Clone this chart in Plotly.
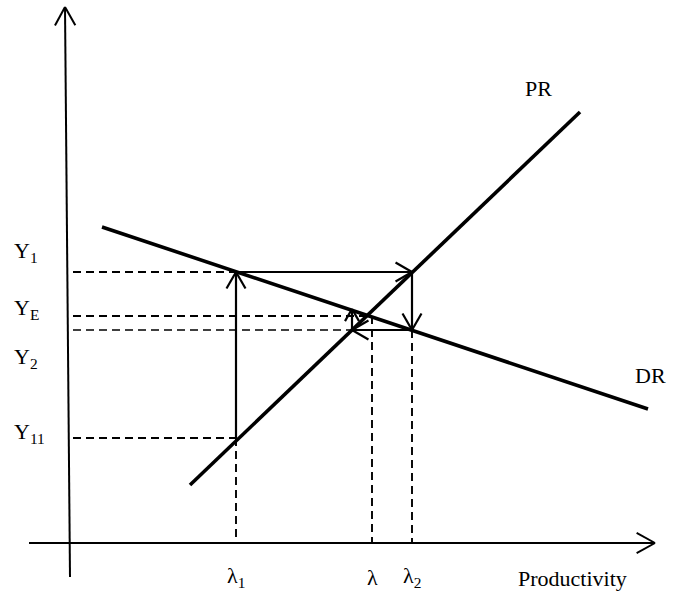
import math
import plotly.graph_objects as go

# ---- data (units: diagram units, origin at axes intersection) ----
dr_x = [32, 578]
dr_y = [316, 134]
pr_x = [120, 510]
pr_y = [58, 431]

lam_names = ["λ<sub>1</sub>", "λ", "λ<sub>2</sub>"]
lam_vals = [166, 302, 342]
y_names = ["Y<sub>1</sub>", "Y<sub>E</sub>", "Y<sub>2</sub>", "Y<sub>11</sub>"]
y_vals = [271, 227, 213, 105]

# cobweb path (adjustment arrows)
cob_x = [166, 166, 342, 342, 282, 282]
cob_y = [105, 271, 271, 213, 213, 234]

# axes extents
yaxis_x = [-5, 0]
yaxis_y = [536, -34]
xaxis_x = [-41, 585]
xaxis_y = [0, 0]

fig = go.Figure()

def line(xs, ys, width, dash=None):
    fig.add_trace(go.Scatter(x=xs, y=ys, mode="lines",
                             line=dict(color="black", width=width, dash=dash),
                             hoverinfo="skip", showlegend=False))

def head(x0, y0, x1, y1, L=19, ang=30, width=2.2):
    a = math.atan2(y1 - y0, x1 - x0)
    pts_x, pts_y = [], []
    for s in (1, -1):
        b = a + math.pi - s * math.radians(ang)
        pts_x += [x1 + L * math.cos(b), x1, None]
        pts_y += [y1 + L * math.sin(b), y1, None]
    line(pts_x, pts_y, width)

# axes
line(yaxis_x, yaxis_y, 2)
head(yaxis_x[1], yaxis_y[1], yaxis_x[0], yaxis_y[0], L=21, ang=29, width=2)
line(xaxis_x, xaxis_y, 2)
head(xaxis_x[0], 0, xaxis_x[1], 0, L=21, ang=29, width=2)

# dashed guides
x_start = 3
dash = "8px,5px"
dw = 1.9
# Y1 -> lambda1
line([x_start, lam_vals[0]], [y_vals[0], y_vals[0]], dw, dash)
# Y11 -> lambda1, and lambda1 down
line([x_start, lam_vals[0]], [y_vals[3], y_vals[3]], dw, dash)
line([lam_vals[0], lam_vals[0]], [y_vals[3], 0], dw, dash)
# YE -> lambda, lambda down
line([x_start, lam_vals[1]], [y_vals[1], y_vals[1]], dw, dash)
line([lam_vals[1], lam_vals[1]], [y_vals[1], 0], dw, dash)
# Y2 -> cobweb, lambda2 down
line([x_start, cob_x[4]], [y_vals[2], y_vals[2]], 1.5, dash)
line([lam_vals[2], lam_vals[2]], [y_vals[2], 0], dw, dash)

# DR and PR curves
line(dr_x, dr_y, 3.6)
line(pr_x, pr_y, 3.6)

# cobweb arrows
for i in range(len(cob_x) - 1):
    line([cob_x[i], cob_x[i + 1]], [cob_y[i], cob_y[i + 1]], 2.2)
    L = 19 if i < 4 else 14
    head(cob_x[i], cob_y[i], cob_x[i + 1], cob_y[i + 1], L=L, ang=30, width=2.2)

font = dict(family="Liberation Serif, Times New Roman, serif", size=22, color="black")
ann = []
# y labels (offsets relative to their levels)
y_off = [20, 7, -28, 5]
for name, v, off in zip(y_names, y_vals, y_off):
    ann.append(dict(x=-58, y=v + off, text=name, showarrow=False,
                    xanchor="left", yanchor="middle", font=font))
for name, v in zip(lam_names, lam_vals):
    ann.append(dict(x=v, y=-34, text=name, showarrow=False,
                    xanchor="center", yanchor="middle", font=font))
ann.append(dict(x=502, y=-35, text="Productivity", showarrow=False,
                xanchor="center", yanchor="middle", font=font))
ann.append(dict(x=pr_x[1] - 42, y=pr_y[1] + 24, text="PR", showarrow=False,
                xanchor="center", yanchor="middle", font=font))
ann.append(dict(x=dr_x[1] + 2, y=dr_y[1] + 34, text="DR", showarrow=False,
                xanchor="center", yanchor="middle", font=font))

fig.update_layout(
    width=673, height=598,
    margin=dict(l=0, r=0, t=0, b=0),
    paper_bgcolor="white", plot_bgcolor="white",
    xaxis=dict(range=[-70, 603], visible=False, fixedrange=True),
    yaxis=dict(range=[-55, 543], visible=False, fixedrange=True),
    annotations=ann,
    showlegend=False,
)

fig.write_html("out.html", config={"displayModeBar": False},
               post_script="document.body.style.margin='0';document.body.style.overflow='hidden';")
